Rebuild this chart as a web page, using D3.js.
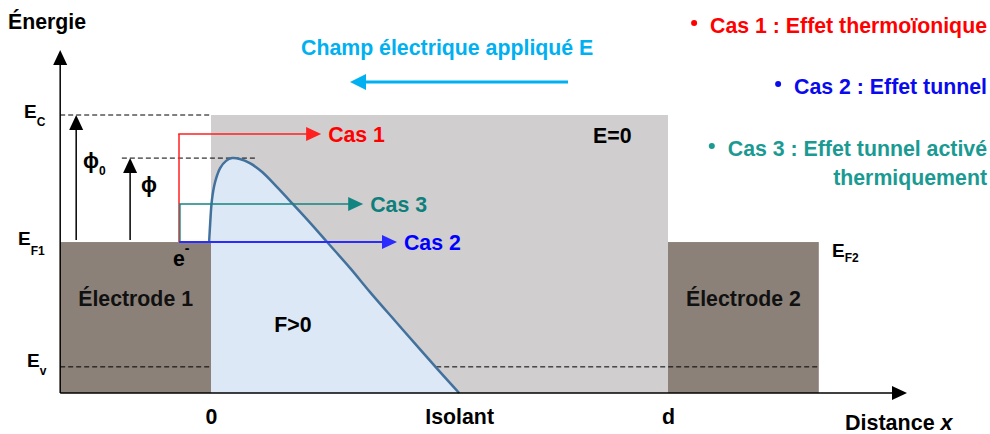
<!DOCTYPE html>
<html>
<head>
<meta charset="utf-8">
<script src="https://d3js.org/d3.v7.min.js"></script>
<style>
  body { margin: 0; background: #fff; }
  svg text { font-family: 'Liberation Sans', Arial, sans-serif; font-weight: bold; }
</style>
</head>
<body>
<div id="graph"></div>
<script>
// x : position in units of the insulator thickness d, E : energy (arbitrary units)
var regionNames = ['Électrode 1', '', 'Électrode 2']
var regionStart = [-0.33, 0, 1]
var regionEnd = [0, 1, 1.33]
var regionTop = [5.43, 10, 5.43]
var regionColors = ['#8b8178', '#d0cecf', '#8b8178']

var levelNames = ['C', 'F1', 'v']
var levelValues = [10, 5.43, 0.94]

// barrier profile
var barrierX = [-0.004, -0.002, 0.002, 0.009, 0.020, 0.033, 0.046, 0.063, 0.085, 0.112,
                0.142, 0.179, 0.217, 0.254, 0.304, 0.348, 0.403, 0.457, 0.501, 0.543]
var barrierE = [5.43, 6.04, 6.94, 7.59, 8.09, 8.35, 8.45, 8.42, 8.27, 7.95,
                7.45, 6.80, 6.12, 5.43, 4.50, 3.63, 2.59, 1.58, 0.76, 0]
var barrierPeak = 8.45

var casNames = ['Cas 1', 'Cas 3', 'Cas 2']
var casStart = [-0.070, -0.068, -0.068]
var casLevel = [9.32, 6.80, 5.43]
var casEnd = [0.241, 0.333, 0.407]
var casColors = ['#ff2020', '#138580', '#2b2bff']
var casTextColors = ['#ff0000', '#0e7f7a', '#0000ff']

var xTickValues = [0, 0.543, 1]
var xTickLabels = ['0', 'Isolant', 'd']

var legendLines = ['Cas 1 : Effet thermoïonique', 'Cas 2 : Effet tunnel', 'Cas 3 : Effet tunnel activé', 'thermiquement']
var legendColors = ['#ff0000', '#0a0aee', '#1a9a92', '#1a9a92']
var legendBullet = [true, true, true, false]

var W = 990, H = 434
var FS = 21.3

var svg = d3.select('#graph').append('svg')
  .attr('width', W)
  .attr('height', H)

var x = d3.scaleLinear().domain([0, 1]).range([211, 668])
var y = d3.scaleLinear().domain([0, 10]).range([393, 115])

// straight arrow with a filled triangular head, in pixel space
function arrow (x1, y1, x2, y2, color, width, len, half) {
  var dx = x2 - x1, dy = y2 - y1
  var l = Math.sqrt(dx * dx + dy * dy)
  var ux = dx / l, uy = dy / l
  var bx = x2 - ux * len, by = y2 - uy * len
  svg.append('line')
    .attr('x1', x1).attr('y1', y1)
    .attr('x2', bx + ux).attr('y2', by + uy)
    .attr('stroke', color).attr('stroke-width', width)
  svg.append('path')
    .attr('d', 'M' + x2 + ',' + y2 +
      'L' + (bx - uy * half) + ',' + (by + ux * half) +
      'L' + (bx + uy * half) + ',' + (by - ux * half) + 'Z')
    .attr('fill', color)
}

function dashed (x1, x2, e) {
  svg.append('line')
    .attr('x1', x(x1)).attr('x2', x(x2))
    .attr('y1', y(e)).attr('y2', y(e))
    .attr('stroke', '#000').attr('stroke-width', 1).attr('stroke-dasharray', '5,3')
}

// regions : electrodes and insulator
svg.selectAll('rect.region')
  .data(regionNames)
  .enter()
  .append('rect')
  .attr('class', 'region')
  .attr('x', function (d, i) { return x(regionStart[i]) })
  .attr('width', function (d, i) { return x(regionEnd[i]) - x(regionStart[i]) })
  .attr('y', function (d, i) { return y(regionTop[i]) })
  .attr('height', function (d, i) { return y(0) - y(regionTop[i]) })
  .attr('fill', function (d, i) { return regionColors[i] })

// E_v dashed level
dashed(-0.33, 1.33, levelValues[2])

var barrier = barrierX.map(function (d, i) { return [d, barrierE[i]] })

// filled barrier under the curve
var area = d3.area()
  .x(function (d) { return x(Math.max(0, d[0])) })
  .y0(y(0))
  .y1(function (d) { return y(d[1]) })
  .curve(d3.curveCatmullRom)
svg.append('path')
  .datum(barrier)
  .attr('d', area)
  .attr('fill', '#dce8f5')

// E_C and peak dashed lines
dashed(-0.33, 0, levelValues[0])
dashed(-0.195, 0.101, barrierPeak)

var line = d3.line()
  .x(function (d) { return x(d[0]) })
  .y(function (d) { return y(d[1]) })
  .curve(d3.curveCatmullRom)
svg.append('path')
  .datum(barrier)
  .attr('d', line)
  .attr('fill', 'none')
  .attr('stroke', '#41719c')
  .attr('stroke-width', 2.5)

// axes
arrow(x(-0.33), y(0), x(-0.33), y(12.34), '#000', 1.5, 15, 7)
arrow(x(-0.33), y(0), x(1.523), y(0), '#000', 1.5, 15, 7)

// work function arrows
arrow(x(-0.295), y(5.5), x(-0.295), y(levelValues[0]), '#000', 1.5, 15, 7)
arrow(x(-0.177), y(5.5), x(-0.177), y(barrierPeak), '#000', 1.5, 15, 7)

// the three transport cases
casNames.forEach(function (c, i) {
  svg.append('line')
    .attr('x1', x(casStart[i])).attr('x2', x(casStart[i]))
    .attr('y1', y(levelValues[1])).attr('y2', y(casLevel[i]))
    .attr('stroke', casColors[i]).attr('stroke-width', 1.5)
  arrow(x(casStart[i]) - 0.75, y(casLevel[i]), x(casEnd[i]), y(casLevel[i]), casColors[i], i === 2 ? 2 : 1.5, 15, 7)
  svg.append('text')
    .attr('x', x(casEnd[i]) + 7)
    .attr('y', y(casLevel[i]) + 8)
    .attr('font-size', FS)
    .attr('fill', casTextColors[i])
    .text(c)
})

// x axis labels
var xAxis = svg.append('g')
  .attr('transform', 'translate(0,' + y(0) + ')')
  .call(d3.axisBottom(x).tickValues(xTickValues)
    .tickFormat(function (d, i) { return xTickLabels[i] })
    .tickSize(0).tickPadding(16))
xAxis.select('.domain').remove()
xAxis.selectAll('text')
  .attr('font-size', FS)
  .attr('fill', '#000')
  .style('font-family', "'Liberation Sans', Arial, sans-serif")
  .style('font-weight', 'bold')

// energy level labels
var levelLabelX = [24, 18, 27]
var levelLabelDy = [3, 3, 0]
var levelSubDy = [8, 10, 8]
levelNames.forEach(function (n, i) {
  var t = svg.append('text')
    .attr('x', levelLabelX[i])
    .attr('y', y(levelValues[i]) + levelLabelDy[i])
    .attr('font-size', 19)
    .attr('fill', '#000')
  t.append('tspan').text('E')
  t.append('tspan').attr('font-size', 12).attr('dy', levelSubDy[i]).text(n)
})
var ef2 = svg.append('text')
  .attr('x', 832).attr('y', y(levelValues[1]) + 15)
  .attr('font-size', 19).attr('fill', '#000')
ef2.append('tspan').text('E')
ef2.append('tspan').attr('font-size', 12).attr('dy', 5).text('F2')

// phi labels
var p0 = svg.append('text').attr('x', 83).attr('y', 168).attr('font-size', FS).attr('fill', '#000')
p0.append('tspan').text('ϕ')
p0.append('tspan').attr('font-size', 12).attr('dy', 7).text('0')
svg.append('text').attr('x', 141).attr('y', 192).attr('font-size', FS).attr('fill', '#000').text('ϕ')

// electron
var el = svg.append('text').attr('x', 173).attr('y', 266).attr('font-size', FS).attr('fill', '#000')
el.append('tspan').text('e')
el.append('tspan').attr('font-size', 14).attr('dy', -13).text('-')

// region names
svg.selectAll('text.region')
  .data(regionNames)
  .enter()
  .append('text')
  .attr('class', 'region')
  .attr('x', function (d, i) { return (x(regionStart[i]) + x(regionEnd[i])) / 2 })
  .attr('y', 306)
  .attr('text-anchor', 'middle')
  .attr('font-size', FS)
  .attr('fill', '#111')
  .text(function (d) { return d })

svg.append('text').attr('x', 293).attr('y', 332).attr('text-anchor', 'middle')
  .attr('font-size', FS).attr('fill', '#000').text('F>0')
svg.append('text').attr('x', 593).attr('y', 143)
  .attr('font-size', FS).attr('fill', '#000').text('E=0')

svg.append('text').attr('x', 8).attr('y', 29)
  .attr('font-size', FS).attr('fill', '#000').text('Énergie')

var dist = svg.append('text').attr('x', 845).attr('y', 430)
  .attr('font-size', 21.5).attr('fill', '#000')
dist.append('tspan').text('Distance ')
dist.append('tspan').attr('font-style', 'italic').text('x')

// applied field
svg.append('text').attr('x', 301).attr('y', 55)
  .attr('font-size', FS).attr('fill', '#00b0f0').text('Champ électrique appliqué E')
arrow(568, 82, 350, 82, '#00b0f0', 3, 16, 8)

// legend
var legendY = [33, 94, 156, 185]
legendLines.forEach(function (t, i) {
  var tx = svg.append('text')
    .attr('x', 987).attr('y', legendY[i])
    .attr('text-anchor', 'end')
    .attr('font-size', FS)
    .attr('fill', legendColors[i])
    .text(t)
  if (legendBullet[i]) {
    var w = tx.node().getComputedTextLength()
    svg.append('circle')
      .attr('cx', 987 - w - 16)
      .attr('cy', legendY[i] - 10)
      .attr('r', 3)
      .attr('fill', legendColors[i])
  }
})
</script>
</body>
</html>
